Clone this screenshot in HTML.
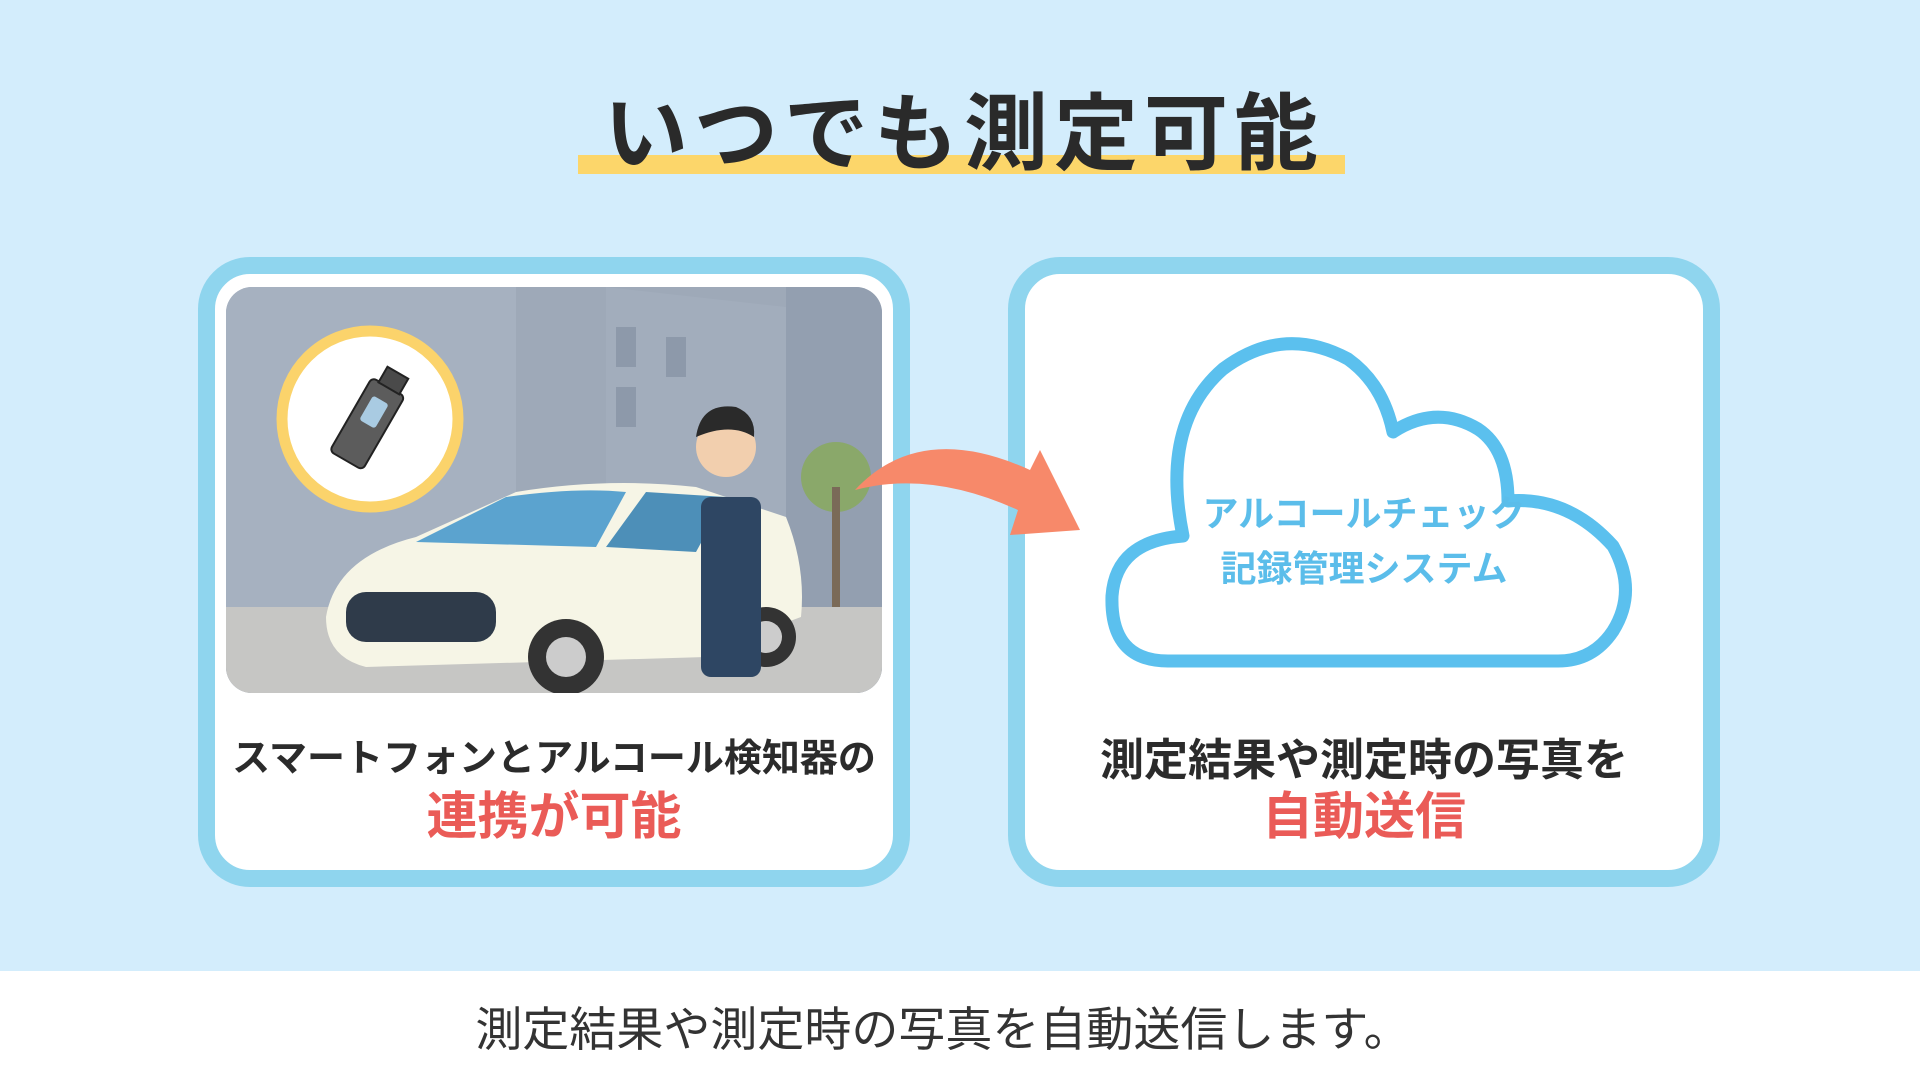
<!DOCTYPE html>
<html><head><meta charset="utf-8"><style>
*{margin:0;padding:0;box-sizing:border-box}
body{width:1920px;height:1080px;background:#d3edfc;position:relative;overflow:hidden;font-family:"Liberation Sans","Noto Sans CJK JP",sans-serif}
.abs{position:absolute}
.card{position:absolute;top:257px;width:712px;height:630px;border:17px solid #8fd5ee;border-radius:52px;background:#fff}
.t1{position:absolute;left:0;width:100%;text-align:center;font-size:38px;font-weight:700;color:#2b2b2b;white-space:nowrap}
.t2{position:absolute;left:0;width:100%;text-align:center;font-size:51px;font-weight:700;color:#ea5b57;white-space:nowrap}
</style></head><body>
<div class="abs" style="left:578px;top:155px;width:767px;height:19px;background:#fcd66a"></div>
<div class="abs" style="left:4px;top:67px;width:1920px;text-align:center;font-size:84px;font-weight:700;color:#2a2a2a;letter-spacing:6px">いつでも測定可能</div>

<div class="card" style="left:198px">
  <svg class="abs" style="left:11px;top:13px" width="656" height="406" viewBox="0 0 656 406">
    <defs><clipPath id="c"><rect width="656" height="406" rx="26"/></clipPath></defs>
    <g clip-path="url(#c)">
      <rect width="656" height="406" fill="#9ea9b8"/>
      <polygon points="0,0 290,0 290,406 0,406" fill="#a6b1c0"/>
      <polygon points="380,0 560,20 560,406 380,406" fill="#a2adbc"/>
      <rect x="560" y="0" width="96" height="406" fill="#939fb0"/>
      <rect x="390" y="40" width="20" height="40" fill="#8d99aa"/><rect x="440" y="50" width="20" height="40" fill="#8d99aa"/><rect x="390" y="100" width="20" height="40" fill="#8d99aa"/>
      <rect x="0" y="320" width="656" height="86" fill="#c6c6c4"/>
      <circle cx="610" cy="190" r="35" fill="#8aa86a"/><rect x="606" y="200" width="8" height="120" fill="#7a6a58"/>
      <path d="M100 330 Q110 270 190 250 L290 205 Q380 190 470 200 L560 230 Q580 280 575 330 Q520 350 480 370 L140 380 Q100 370 100 330Z" fill="#f6f5e6"/>
      <path d="M190 255 L280 210 Q350 200 400 205 L370 260 Z" fill="#5ba3cf"/>
      <path d="M380 260 L420 205 L500 210 L470 265 Z" fill="#4d8fb8"/>
      <rect x="120" y="305" width="150" height="50" rx="20" fill="#2f3b4a"/>
      <circle cx="340" cy="370" r="38" fill="#333"/><circle cx="340" cy="370" r="20" fill="#ccc"/>
      <circle cx="540" cy="350" r="30" fill="#333"/><circle cx="540" cy="350" r="16" fill="#ccc"/>
      <rect x="475" y="210" width="60" height="180" rx="10" fill="#2e4663"/>
      <circle cx="500" cy="160" r="30" fill="#f2cfae"/><path d="M470 150 Q475 115 510 120 Q530 128 528 150 Q505 135 470 150Z" fill="#2a2a2a"/>
    </g>
    <circle cx="144" cy="132" r="88" fill="#fff" stroke="#fbd36b" stroke-width="11"/>
    <g transform="rotate(30 144 132)"><rect x="125" y="95" width="38" height="85" rx="5" fill="#5c5c5c" stroke="#222" stroke-width="2"/><rect x="133" y="78" width="24" height="18" fill="#4a4a4a" stroke="#222" stroke-width="2"/><rect x="135" y="110" width="18" height="28" rx="3" fill="#a9cbe2"/></g>
  </svg>
  <div class="t1" style="top:453px">スマートフォンとアルコール検知器の</div>
  <div class="t2" style="top:501px">連携が可能</div>
</div>

<div class="card" style="left:1008px">
  <svg class="abs" style="left:73px;top:40px" width="550" height="367" viewBox="0 0 550 367">
    <path d="M70 347 Q12 347 14 282 Q18 227 85 222 Q62 110 125 55 Q185 10 250 45 Q285 70 295 118 Q338 90 380 115 Q410 135 410 187 Q470 182 515 232 Q540 277 515 317 Q495 347 460 347 Z" fill="#fff" stroke="#5bc0ee" stroke-width="13" stroke-linejoin="round"/>
  </svg>
  <div class="abs" style="left:0;width:100%;top:212px;text-align:center;font-size:36px;font-weight:700;color:#5bbdea;line-height:55px">アルコールチェック<br>記録管理システム</div>
  <div class="t1" style="top:450px;font-size:44px">測定結果や測定時の写真を</div>
  <div class="t2" style="top:501px">自動送信</div>
</div>

<svg class="abs" style="left:840px;top:430px" width="260" height="110" viewBox="0 0 260 110">
  <path d="M15 60 Q80 -10 190 40 L200 20 L240 100 L170 105 L178 80 Q90 40 15 60Z" fill="#f7896a"/>
</svg>

<div class="abs" style="left:0;top:971px;width:1920px;height:109px;background:#fff"></div>
<div class="abs" style="left:-17px;top:991px;width:1920px;text-align:center;font-size:47px;color:#333">測定結果や測定時の写真を自動送信します。</div>
</body></html>
